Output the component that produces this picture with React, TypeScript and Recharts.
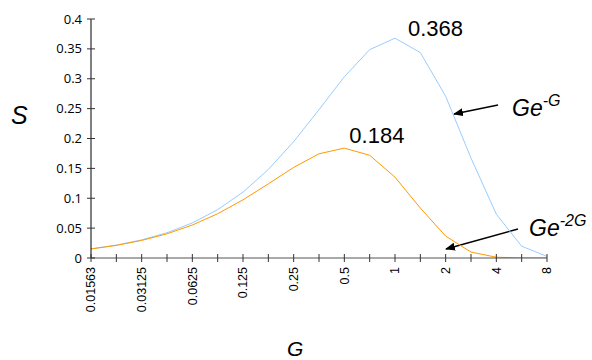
import React from "react";
import { LineChart, Line, XAxis, YAxis, ReferenceDot, Customized } from "recharts";

const categories = ["0.01563","0.0221","0.03125","0.0442","0.0625","0.0884","0.125","0.177","0.25","0.354","0.5","0.707","1","1.41","2","2.83","4","5.66","8"];
const seriesGeG = [0.0154,0.0216,0.0303,0.0423,0.0587,0.0809,0.1103,0.1481,0.1947,0.2483,0.3033,0.3487,0.3679,0.3438,0.2707,0.1672,0.0733,0.0197,0.0027];
const seriesGe2G = [0.0151,0.0211,0.0294,0.0405,0.0552,0.0741,0.0974,0.1241,0.1516,0.1744,0.1839,0.1719,0.1353,0.0836,0.0366,0.0099,0.0013,0.0001,0.0];
const yTicks = [0,0.05,0.1,0.15,0.2,0.25,0.3,0.35,0.4];

const data = categories.map((c, i) => ({ g: c, a: seriesGeG[i], b: seriesGe2G[i] }));

const XTick = (props: any) => {
  const { x, y, payload, index } = props;
  return (
    <g>
      <line x1={x} x2={x} y1={y - 4} y2={y + 4} stroke="#333" strokeWidth={1} />
      {index % 2 === 0 && (
        <text
          transform={`translate(${x},${y + 9}) rotate(-90)`}
          textAnchor="end"
          dy="0.35em"
          fontFamily="Liberation Sans, Arial, sans-serif"
          fontSize={12.5}
          fill="#000"
        >
          {payload.value}
        </text>
      )}
    </g>
  );
};

const YTick = (props: any) => {
  const { x, y, payload } = props;
  return (
    <g>
      <line x1={x - 4} x2={x + 4} y1={y} y2={y} stroke="#333" strokeWidth={1} />
      <text x={x - 9} y={y} dy="0.35em" textAnchor="end" fontFamily="Open Sans, sans-serif" fontSize={13} fill="#000">
        {String(payload.value)}
      </text>
    </g>
  );
};

const Annotations = () => (
  <g fontFamily="Liberation Sans, Arial, sans-serif" fill="#000">
    <defs>
      <marker id="ah" markerWidth="10" markerHeight="8" refX="9" refY="4" orient="auto" markerUnits="userSpaceOnUse">
        <path d="M0,0 L10,4 L0,8 Z" fill="#000" />
      </marker>
    </defs>
    <line x1={498} y1={105} x2={454} y2={114} stroke="#000" strokeWidth={1.5} markerEnd="url(#ah)" />
    <line x1={518} y1={229} x2={446} y2={249} stroke="#000" strokeWidth={1.5} markerEnd="url(#ah)" />
    <text x={512} y={116} fontSize={23} fontStyle="italic">
      Ge<tspan dy={-10} fontSize={16}>-G</tspan>
    </text>
    <text x={529} y={236} fontSize={23} fontStyle="italic">
      Ge<tspan dy={-10} fontSize={16}>-2G</tspan>
    </text>
    <text x={11} y={124} fontSize={25} fontStyle="italic">S</text>
    <text x={287} y={356} fontSize={21} fontStyle="italic">G</text>
  </g>
);

const peakLabel = (txt: string, dx: number, dy: number) => (props: any) => {
  const vb = props.viewBox || {};
  const cx = (vb.x ?? 0) + (vb.width ?? 0) / 2;
  const cy = (vb.y ?? 0) + (vb.height ?? 0) / 2;
  return (
    <text x={cx + dx} y={cy + dy} fontFamily="Liberation Sans, Arial, sans-serif" fontSize={22} fill="#000">
      {txt}
    </text>
  );
};

export default function App() {
  return (
    <div style={{ position: "absolute", left: 0, top: 0 }}>
      <LineChart width={592} height={360} data={data} margin={{ top: 19, right: 45, bottom: 0, left: 0 }}>
        <XAxis
          dataKey="g"
          interval={0}
          height={102}
          tickSize={0}
          tickMargin={0}
          tickLine={false}
          tick={<XTick />}
          axisLine={{ stroke: "#555" }}
        />
        <YAxis
          width={91}
          domain={[0, 0.4]}
          ticks={yTicks}
          tickSize={0}
          tickMargin={0}
          tickLine={false}
          tick={<YTick />}
          axisLine={{ stroke: "#000" }}
          allowDataOverflow
        />
        <Line type="linear" dataKey="a" stroke="#99CCFF" strokeWidth={1} dot={false} isAnimationActive={false} />
        <Line type="linear" dataKey="b" stroke="#FF9900" strokeWidth={1} dot={false} isAnimationActive={false} />
        <ReferenceDot x="1" y={0.3679} r={1} fill="none" stroke="none" label={peakLabel("0.368", 13, -2)} />
        <ReferenceDot x="0.5" y={0.1839} r={1} fill="none" stroke="none" label={peakLabel("0.184", 5, -5)} />
        <Customized component={Annotations} />
      </LineChart>
    </div>
  );
}
